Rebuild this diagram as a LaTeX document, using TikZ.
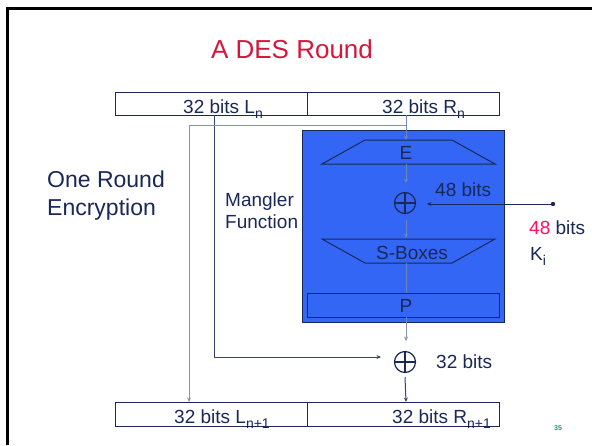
\documentclass[tikz,border=0pt]{standalone}
\usepackage{fontspec}
\setmainfont{Liberation Sans}
\usetikzlibrary{arrows.meta}
\definecolor{navy}{HTML}{1A2858}
\definecolor{wire}{HTML}{8392B4}
\definecolor{wirein}{HTML}{6E86B8}
\definecolor{mblue}{HTML}{3366F5}
\definecolor{titlered}{HTML}{D6163C}
\definecolor{keypink}{HTML}{FF1060}
\definecolor{pgnum}{HTML}{2E8B7A}
\newcommand{\sbs}[1]{\raisebox{-5pt}{\fontsize{14}{14}\selectfont #1}}
\tikzset{
  bitbox/.style={draw=navy, line width=0.9pt, fill=white},
  wireline/.style={draw=wire, line width=1pt},
  inwire/.style={draw=wirein, line width=1pt},
  arr/.style={-{Stealth[length=4.5pt,width=4pt]}},
  txt/.style={text=navy, inner sep=0pt, font=\fontsize{19}{22}\selectfont},
  xorsym/.style={circle, draw=navy, line width=1.2pt, minimum size=21pt, inner sep=0pt,
    path picture={\draw[navy, line width=1.2pt] (path picture bounding box.north) -- (path picture bounding box.south)
      (path picture bounding box.west) -- (path picture bounding box.east);}},
}
\begin{document}
\begin{tikzpicture}[x=1pt,y=-1pt]
\useasboundingbox (0,0) rectangle (592,445);
\fill[white] (0,0) rectangle (592,445);
% frame
\draw[black, line width=3pt] (7,445) -- (7,8) -- (592,8);
% title
\node[text=titlered, inner sep=0pt, font=\fontsize{26}{30}\selectfont] (title) at (292,49) {A DES Round};
% top box
\draw[bitbox] (115,92) rectangle (307,115);
\draw[bitbox] (307,92) rectangle (499,115);
% bottom box
\draw[bitbox] (115,402) rectangle (307,426);
\draw[bitbox] (307,402) rectangle (499,426);
\coordinate (topR) at (406,115);
\coordinate (topL) at (214,115);
\coordinate (botL) at (189,402);
\coordinate (botR) at (406,402);
% mangler box
\draw[navy, line width=1pt, fill=mblue] (302,130) rectangle (504,322);
% E trapezoid
\draw[navy, line width=1pt] (365,140) -- (452,140) -- (495,164) -- (322,164) -- cycle;
\node[txt] (E) at (406,153) {E};
% S-box trapezoid
\draw[navy, line width=1pt] (322,239) -- (495,239) -- (452,263) -- (365,263) -- cycle;
\node[txt] (S) at (412,253) {S-Boxes};
% P box
\draw[navy, line width=1pt] (307,293) rectangle (499,317);
\node[txt] (P) at (406,306) {P};
% XORs
\node[xorsym] (x1) at (405,203) {};
\node[xorsym] (x2) at (405,362) {};
% wires through mangler
\draw[inwire, arr] (topR) -- (406,140);
\draw[inwire, arr] (406,164) -- (406,183);
\draw[inwire, arr] (406,220) -- (406,238);
\draw[inwire] (406,263) -- (406,293);
\draw[inwire] (406,317) -- (406,322);
\draw[wireline, arr] (406,322) -- (406,341);
\draw[navy!75!wire, line width=1pt, arr] (405,377) -- (botR);
% L_n path
\draw[draw=navy!75!wire, line width=1pt, arr] (topL) -- (214,357) -- (381,357);
% R_n branch
\draw[wireline, arr] (406,125) -- (189,125) -- (botL);
% key
\coordinate (kdot) at (553,204);
\fill[navy] (kdot) circle (2.2pt);
\draw[navy, line width=1pt, arr] (kdot) -- (427,204);
% box texts
\node[txt, anchor=base west] (Ln) at (183,113) {32 bits L\sbs{n}};
\node[txt, anchor=base west] (Rn) at (382,113) {32 bits R\sbs{n}};
\node[txt, anchor=base west] (Ln1) at (174,423) {32 bits L\sbs{n+1}};
\node[txt, anchor=base west] (Rn1) at (392,423) {32 bits R\sbs{n+1}};
% labels
\node[txt, anchor=west] (b48) at (435,190) {48 bits};
\node[txt, anchor=west] (k48) at (529,228) {\textcolor{keypink}{48} bits};
\node[txt, anchor=base west] (ki) at (530,260) {K\sbs{i}};
\node[txt, anchor=west] (b32) at (436,362) {32 bits};
\node[txt, anchor=west, align=left, font=\fontsize{23}{28}\selectfont] (ore) at (47,196) {One Round\\Encryption};
\node[txt, anchor=west, align=left, font=\fontsize{19}{22}\selectfont] (mf) at (225,211) {Mangler\\Function};
\node[text=pgnum, inner sep=0pt, font=\bfseries\fontsize{7}{8}\selectfont] (pg) at (558,428) {35};
\end{tikzpicture}
\end{document}
